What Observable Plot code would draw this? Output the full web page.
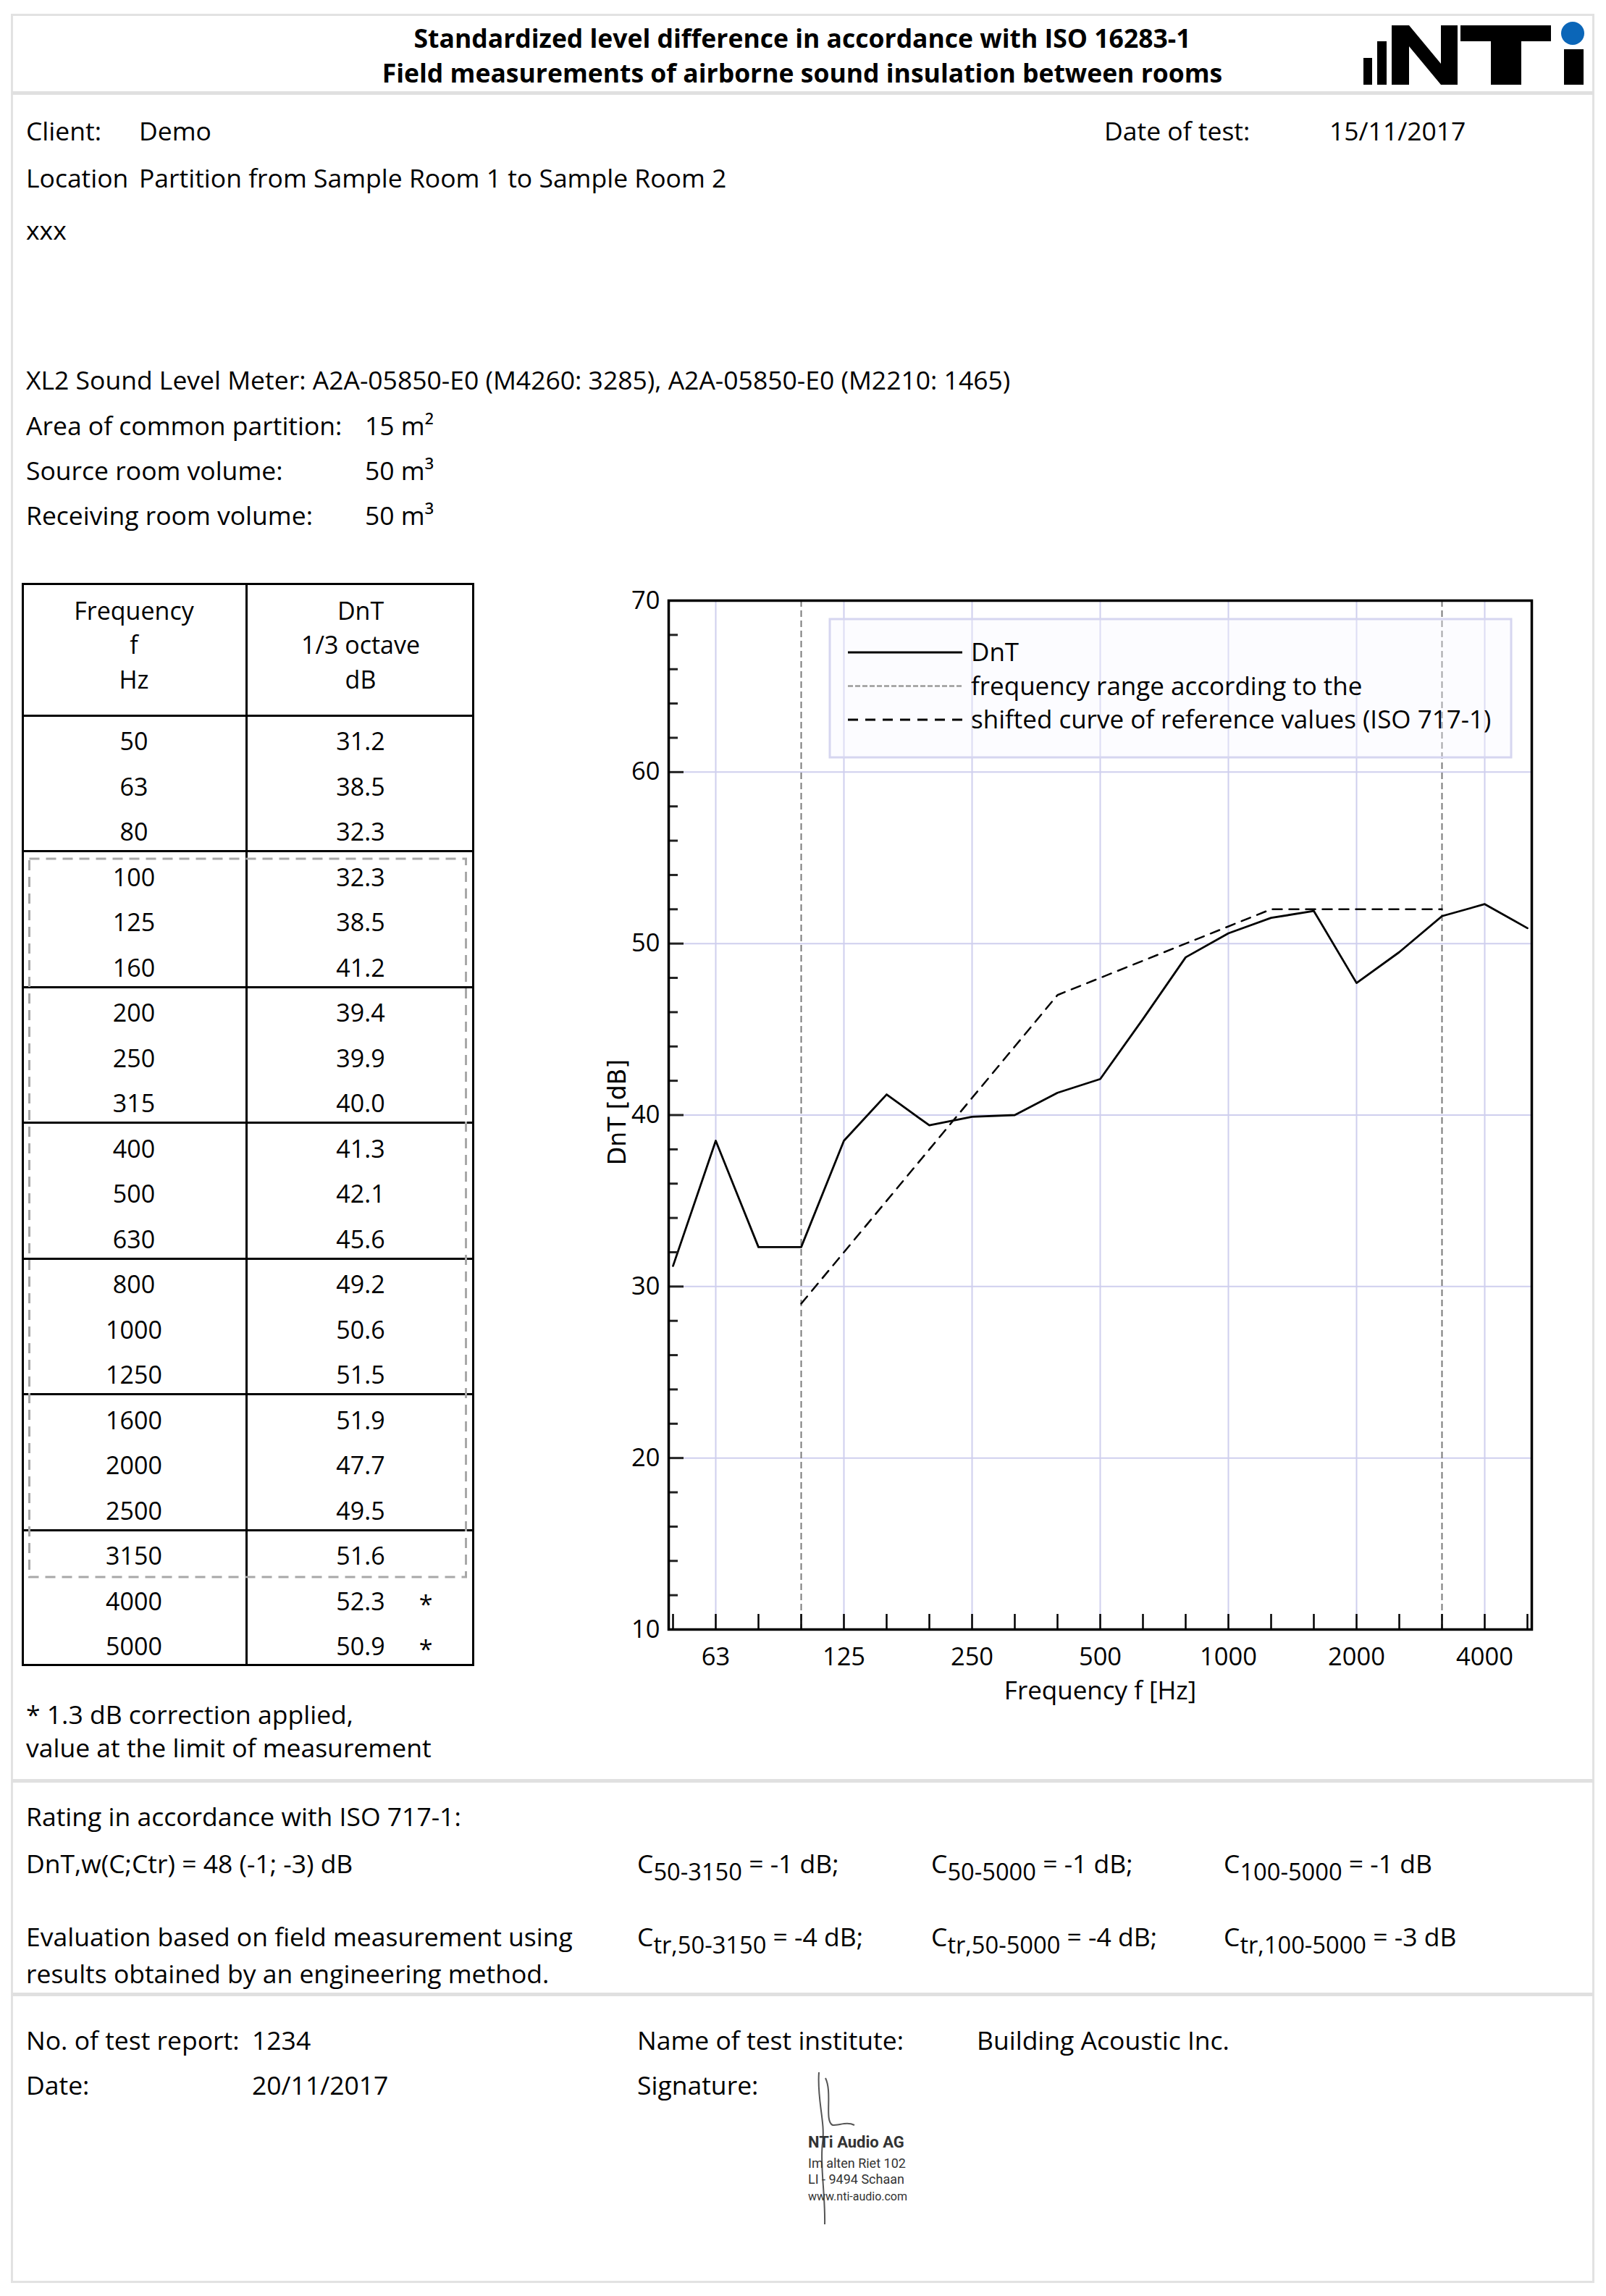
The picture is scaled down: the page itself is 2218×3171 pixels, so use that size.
<!DOCTYPE html>
<html><head><meta charset="utf-8">
<script src="https://cdn.jsdelivr.net/npm/d3@7"></script>
<script src="https://cdn.jsdelivr.net/npm/@observablehq/plot@0.6"></script>
<style>
html,body{margin:0;padding:0;background:#fff}
body{width:2218px;height:3171px;position:relative;font-family:"Open Sans",sans-serif;color:#000;overflow:hidden}
.t{position:absolute;font-size:35.5px;white-space:nowrap;line-height:1;transform:translateY(-50%)}
.c{transform:translate(-50%,-50%)}
.b{font-weight:bold}
.sep{position:absolute;left:16px;width:2184px;height:5px;background:#e0e0e0}
sub{font-size:0.92em;vertical-align:-0.3em;line-height:0}
</style></head><body>
<div style="position:absolute;left:15px;top:19px;width:2181px;height:3128px;border:3px solid #e2e2e2"></div>
<div class="sep" style="top:126px"></div>
<div class="sep" style="top:2457px"></div>
<div class="sep" style="top:2752px"></div>
<div id="page"></div>
<div id="chart" style="position:absolute;left:800px;top:790px"></div>
<svg id="legend" style="position:absolute;left:0;top:0" width="2218" height="1200"></svg>
<script>
// ---------- data ----------
const freqs = [50, 63, 80, 100, 125, 160, 200, 250, 315, 400, 500, 630, 800, 1000, 1250, 1600, 2000, 2500, 3150, 4000, 5000];
const dnt = [31.2, 38.5, 32.3, 32.3, 38.5, 41.2, 39.4, 39.9, 40.0, 41.3, 42.1, 45.6, 49.2, 50.6, 51.5, 51.9, 47.7, 49.5, 51.6, 52.3, 50.9];
const refFreqs = [100, 125, 160, 200, 250, 315, 400, 500, 630, 800, 1000, 1250, 1600, 2000, 2500, 3150];
const refShifted = [29, 32, 35, 38, 41, 44, 47, 48, 49, 50, 51, 52, 52, 52, 52, 52];
const xLabelFreqs = [63, 125, 250, 500, 1000, 2000, 4000];
const yLabels = [10, 20, 30, 40, 50, 60, 70];
const yMinor = [12, 14, 16, 18, 22, 24, 26, 28, 32, 34, 36, 38, 42, 44, 46, 48, 52, 54, 56, 58, 62, 64, 66, 68];
const rangeLimits = [100, 3150];
const corrected = [4000, 5000];

const dntRows = freqs.map((f, i) => ({f, v: dnt[i]}));
const refRows = refFreqs.map((f, i) => ({f, v: refShifted[i]}));

// ---------- page text ----------
const page = document.getElementById("page");
function txt(x, y, html, cls = "", style = "") {
  const d = document.createElement("div");
  d.className = "t " + cls;
  d.style.left = x + "px"; d.style.top = y + "px";
  if (style) d.style.cssText += style;
  d.innerHTML = html;
  page.appendChild(d);
  return d;
}
txt(1108, 53, "Standardized level difference in accordance with ISO 16283-1", "c b");
txt(1108, 101, "Field measurements of airborne sound insulation between rooms", "c b");

txt(36, 181, "Client:"); txt(192, 181, "Demo");
txt(1525, 181, "Date of test:"); txt(1836, 181, "15/11/2017");
txt(36, 246, "Location"); txt(192, 246, "Partition from Sample Room 1 to Sample Room 2");
txt(36, 318, "xxx");
txt(36, 525, "XL2 Sound Level Meter: A2A-05850-E0 (M4260: 3285), A2A-05850-E0 (M2210: 1465)");
txt(36, 588, "Area of common partition:"); txt(504, 588, "15 m²");
txt(36, 650, "Source room volume:"); txt(504, 650, "50 m³");
txt(36, 712, "Receiving room volume:"); txt(504, 712, "50 m³");

txt(36, 2368, "* 1.3 dB correction applied,");
txt(36, 2414, "value at the limit of measurement");

txt(36, 2509, "Rating in accordance with ISO 717-1:");
txt(36, 2574, "DnT,w(C;Ctr) = 48 (-1; -3) dB");
txt(880, 2574, "C<sub>50-3150</sub> = -1 dB;");
txt(1286, 2574, "C<sub>50-5000</sub> = -1 dB;");
txt(1690, 2574, "C<sub>100-5000</sub> = -1 dB");
txt(36, 2675, "Evaluation based on field measurement using");
txt(36, 2726, "results obtained by an engineering method.");
txt(880, 2675, "C<sub>tr,50-3150</sub> = -4 dB;");
txt(1286, 2675, "C<sub>tr,50-5000</sub> = -4 dB;");
txt(1690, 2675, "C<sub>tr,100-5000</sub> = -3 dB");

txt(36, 2818, "No. of test report:"); txt(348, 2818, "1234");
txt(36, 2880, "Date:"); txt(348, 2880, "20/11/2017");
txt(880, 2818, "Name of test institute:"); txt(1349, 2818, "Building Acoustic Inc.");
txt(880, 2880, "Signature:");

// ---------- table ----------
const tX0 = 30, tX1 = 655, tXm = 340, tTop = 805, tHead = 988, rowH = 62.5;
const tBottom = tHead + rowH * freqs.length;
function box(x, y, w, h, css) {
  const d = document.createElement("div");
  d.style.cssText = `position:absolute;left:${x}px;top:${y}px;width:${w}px;height:${h}px;${css}`;
  page.appendChild(d);
}
box(tX0, tTop, tX1 - tX0, tBottom - tTop, "border:3px solid #000;box-sizing:border-box");
box(tXm - 1.5, tTop, 3, tBottom - tTop, "background:#000");
box(tX0, tHead - 1.5, tX1 - tX0, 3, "background:#000");
for (let i = 3; i < freqs.length - 2; i += 3) box(tX0, tHead + rowH * i - 1.5, tX1 - tX0, 3, "background:#000");
const iStart = freqs.indexOf(rangeLimits[0]), iEnd = freqs.indexOf(rangeLimits[1]);
const dsvg = d3.select("body").append("svg").style("position", "absolute").style("left", 0).style("top", 0)
  .attr("width", 700).attr("height", 2400);
dsvg.append("rect").attr("x", 40.5).attr("y", tHead + rowH * iStart + 10.5)
  .attr("width", 603).attr("height", rowH * (iEnd - iStart + 1) - 8)
  .attr("fill", "none").attr("stroke", "#a8a8a8").attr("stroke-width", 3).attr("stroke-dasharray", "14,9");
const fc = 185, vc = 498;
txt(fc, 843, "Frequency", "c", "font-size:34px");
txt(fc, 890, "f", "c", "font-size:34px");
txt(fc, 938, "Hz", "c", "font-size:34px");
txt(vc, 843, "DnT", "c", "font-size:34px");
txt(vc, 890, "1/3 octave", "c", "font-size:34px");
txt(vc, 938, "dB", "c", "font-size:34px");
freqs.forEach((f, i) => {
  const y = tHead + rowH * i + 35;
  txt(fc, y, String(f), "c", "font-size:34px");
  txt(vc, y, dnt[i].toFixed(1), "c", "font-size:34px");
  if (corrected.includes(f)) txt(588, y + 4, "*", "c", "font-size:34px");
});

// ---------- chart ----------
const plotW = 1192, plotH = 1421;
const chart = Plot.plot({
  width: 1340, height: 1590,
  marginLeft: 123, marginTop: 39, marginRight: 25, marginBottom: 130,
  style: {fontFamily: "Open Sans", fontSize: "34.5px", background: "transparent", color: "#000"},
  x: {type: "point", domain: freqs, padding: 0, tickSize: 0, tickPadding: 25,
      tickFormat: d => xLabelFreqs.includes(d) ? String(d) : "", label: null},
  y: {domain: [10, 70], ticks: yLabels, tickSize: 0, tickPadding: 12, label: null},
  marks: [
    Plot.ruleX(xLabelFreqs, {x: d => d, stroke: "#cfcfee", strokeWidth: 2}),
    Plot.ruleY(yLabels.slice(1, -1), {y: d => d, stroke: "#cfcfee", strokeWidth: 2}),
    Plot.ruleX(rangeLimits, {x: d => d, stroke: "#7a7a7a", strokeWidth: 2, strokeDasharray: "9,5"}),
    Plot.line(refRows, {x: "f", y: "v", stroke: "#000", strokeWidth: 2.5, strokeDasharray: "13,10"}),
    Plot.line(dntRows, {x: "f", y: "v", stroke: "#000", strokeWidth: 2.8}),
    Plot.tickX(freqs, {x: d => d, insetTop: plotH - 21, stroke: "#000", strokeWidth: 2.5}),
    Plot.tickY(yMinor, {y: d => d, insetRight: plotW - 13, stroke: "#222", strokeWidth: 3}),
    Plot.tickY(yLabels, {y: d => d, insetRight: plotW - 21, stroke: "#222", strokeWidth: 3}),
    Plot.frame({stroke: "#000", strokeWidth: 3.5}),
    Plot.text(["Frequency f [Hz]"], {frameAnchor: "bottom", dy: 96, fontSize: 35}),
    Plot.text(["DnT [dB]"], {frameAnchor: "left", textAnchor: "middle", dx: -70, dy: -4, rotate: -90,
      fontSize: 33, fontFamily: "DejaVu Sans"})
  ]
});
document.getElementById("chart").appendChild(chart);

// ---------- legend (inside plot) ----------
const lg = d3.select("#legend");
lg.append("rect").attr("x", 1146).attr("y", 855).attr("width", 941).attr("height", 191)
  .attr("fill", "rgba(245,245,255,0.35)").attr("stroke", "#d6d6f0").attr("stroke-width", 3);
const legendItems = [
  {label: "DnT", stroke: "#000", dash: null, w: 3},
  {label: "frequency range according to the", stroke: "#9a9a9a", dash: "7,3", w: 2.5},
  {label: "shifted curve of reference values (ISO 717-1)", stroke: "#000", dash: "14,10", w: 3}
];
legendItems.forEach((it, i) => {
  const y = 901 + i * 46.5;
  lg.append("line").attr("x1", 1171).attr("x2", 1329).attr("y1", y).attr("y2", y)
    .attr("stroke", it.stroke).attr("stroke-width", it.w).attr("stroke-dasharray", it.dash);
  lg.append("text").attr("x", 1341).attr("y", y).attr("dy", "0.35em")
    .attr("font-family", "Open Sans").attr("font-size", 35).text(it.label);
});

// ---------- logo ----------
const logo = d3.select("body").append("svg").style("position", "absolute").style("left", 0).style("top", 0)
  .attr("width", 2218).attr("height", 140);
logo.append("rect").attr("x", 1883).attr("y", 80).attr("width", 12).attr("height", 37);
logo.append("rect").attr("x", 1902).attr("y", 57).attr("width", 13).attr("height", 60);
logo.append("path").attr("d", "M1922,117 L1922,35 L1946,35 L1990,88 L1990,35 L2013,35 L2013,117 L1990,117 L1946,64 L1946,117 Z");
logo.append("rect").attr("x", 2017).attr("y", 35).attr("width", 125).attr("height", 22);
logo.append("rect").attr("x", 2059).attr("y", 35).attr("width", 42).attr("height", 82);
logo.append("rect").attr("x", 2160).attr("y", 68).attr("width", 27).attr("height", 49);
logo.append("circle").attr("cx", 2172).attr("cy", 46).attr("r", 16).attr("fill", "#0b66b8");

// ---------- stamp ----------
const st = d3.select("body").append("svg").style("position", "absolute").style("left", 0).style("top", 0)
  .attr("width", 2218).attr("height", 3171).style("pointer-events", "none");
st.append("path").attr("d", "M1131,2862 C1128,2900 1140,2930 1136,2960 C1132,2990 1140,3030 1139,3072 M1140,2870 C1150,2890 1138,2930 1150,2935 C1160,2935 1170,2930 1180,2935")
  .attr("fill", "none").attr("stroke", "#555").attr("stroke-width", 2);
const stampLines = [["NTi Audio AG", 2958, "bold", 22], ["Im alten Riet 102", 2988, "normal", 18], ["LI - 9494 Schaan", 3010, "normal", 18], ["www.nti-audio.com", 3033, "normal", 16]];
stampLines.forEach(([s, y, w, fs]) => st.append("text").attr("x", 1116).attr("y", y).attr("dy", "0.35em")
  .attr("font-family", "Liberation Sans Narrow, Roboto, sans-serif").attr("font-weight", w).attr("font-size", fs).attr("fill", "#333").text(s));
</script>
</body></html>
